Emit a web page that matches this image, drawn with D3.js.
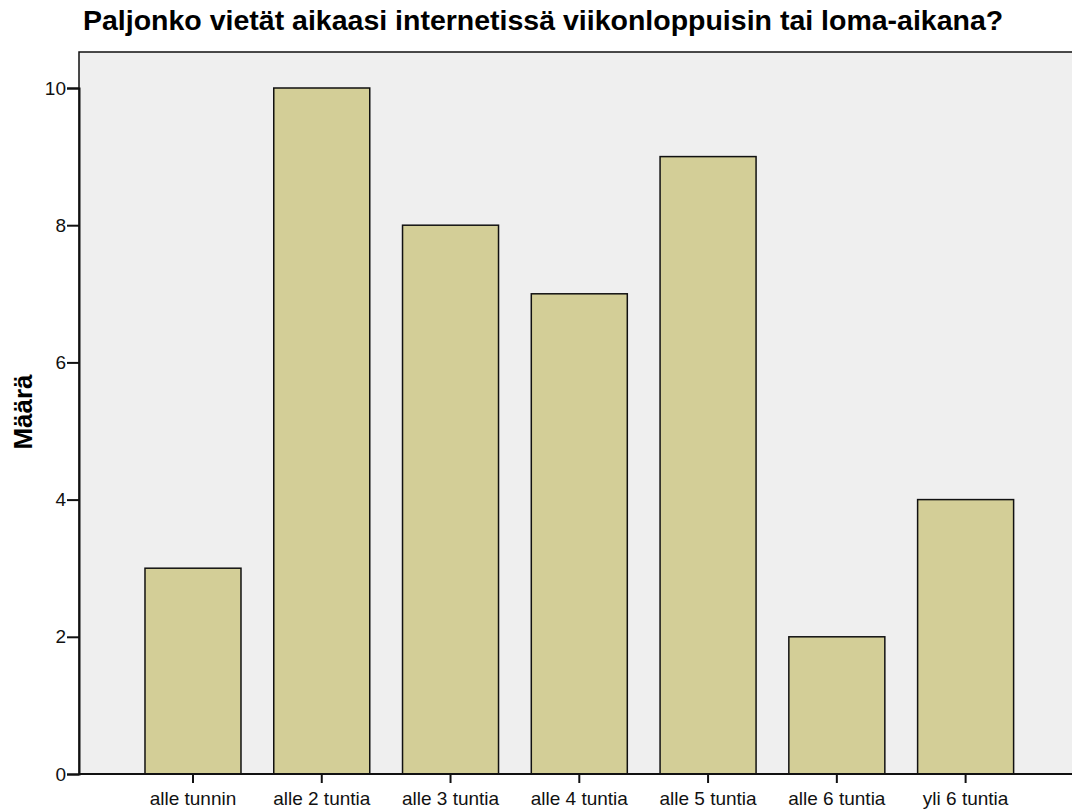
<!DOCTYPE html>
<html>
<head>
<meta charset="utf-8">
<script src="https://cdn.jsdelivr.net/npm/d3@7"></script>
<style>
  body { margin: 0; background: #fff; }
  text { font-family: "Liberation Sans", Arial, sans-serif; }
</style>
</head>
<body>
<svg width="1072" height="809"></svg>
<script>
var categories = ["alle tunnin", "alle 2 tuntia", "alle 3 tuntia", "alle 4 tuntia", "alle 5 tuntia", "alle 6 tuntia", "yli 6 tuntia"];
var counts = [3, 10, 8, 7, 9, 2, 4];
var yTicks = [0, 2, 4, 6, 8, 10];

var svg = d3.select("svg"),
  plot = {left: 79, top: 52, right: 1074, bottom: 774};

var x = d3.scaleBand()
  .domain(categories)
  .range([128.6, 1030])
  .paddingInner(0.2545)
  .paddingOuter(0.12725);
var y = d3.scaleLinear().domain([0, 10]).range([774, 88]);

// plot background
svg.append("rect")
  .attr("x", plot.left)
  .attr("y", plot.top)
  .attr("width", plot.right - plot.left)
  .attr("height", plot.bottom - plot.top)
  .attr("fill", "#efefef")
  .attr("stroke", "#111")
  .attr("stroke-width", 1.5);

svg.append("g")
  .selectAll("rect")
  .data(counts)
  .enter().append("rect")
  .attr("x", function(d, i) { return x(categories[i]); })
  .attr("y", function(d) { return y(d); })
  .attr("width", x.bandwidth())
  .attr("height", function(d) { return y(0) - y(d); })
  .attr("fill", "#d3ce97")
  .attr("stroke", "#111")
  .attr("stroke-width", 1.5);

var yAxis = svg.append("g")
  .attr("transform", "translate(" + plot.left + ",0)")
  .call(d3.axisLeft(y).tickValues(yTicks).tickSize(12).tickPadding(1).tickFormat(d3.format("d")));
yAxis.select(".domain").attr("stroke", "#111").attr("stroke-width", 2);
yAxis.selectAll(".tick line").attr("stroke", "#111").attr("stroke-width", 2);
yAxis.selectAll("text").attr("font-size", 19).attr("fill", "#111")
  .style("font-family", "Liberation Sans, Arial, sans-serif");

var xAxis = svg.append("g")
  .attr("transform", "translate(0," + plot.bottom + ")")
  .call(d3.axisBottom(x).tickSize(9).tickPadding(9));
xAxis.select(".domain").attr("d", "M" + plot.left + ",0H" + plot.right).attr("stroke", "#111").attr("stroke-width", 2);
xAxis.selectAll(".tick line").attr("stroke", "#111").attr("stroke-width", 2);
xAxis.selectAll("text").attr("font-size", 19).attr("fill", "#111")
  .style("font-family", "Liberation Sans, Arial, sans-serif");

svg.append("text")
  .attr("x", 83)
  .attr("y", 30)
  .attr("font-size", 28.5)
  .attr("font-weight", "bold")
  .attr("fill", "#000")
  .text("Paljonko vietät aikaasi internetissä viikonloppuisin tai loma-aikana?");

svg.append("text")
  .attr("transform", "translate(32,412) rotate(-90)")
  .attr("text-anchor", "middle")
  .attr("font-size", 26)
  .attr("font-weight", "bold")
  .attr("fill", "#000")
  .text("Määrä");
</script>
</body>
</html>
